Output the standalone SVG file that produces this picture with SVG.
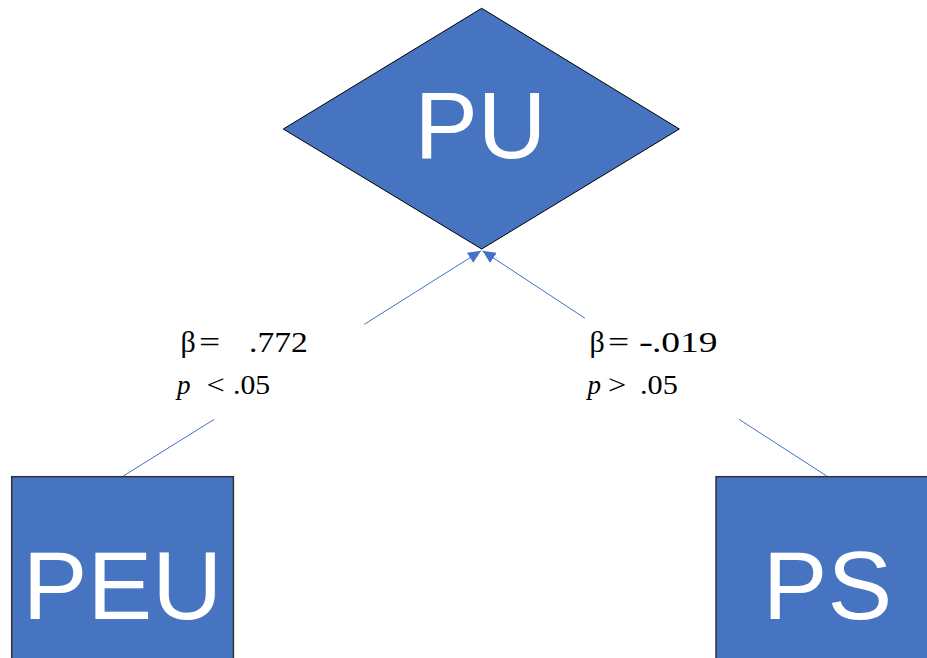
<svg xmlns="http://www.w3.org/2000/svg" width="927" height="658" viewBox="0 0 927 658">
  <style>
    .node { fill: #4674C1; }
    .lbl { font-family: "Liberation Sans", Arial, sans-serif; fill: #ffffff; text-anchor: middle; }
    .conn { stroke: #4472C4; stroke-width: 1; fill: none; }
    .stat { font-family: "Liberation Serif", "Times New Roman", serif; fill: #000000; }
    .s1 { font-size: 30px; }
    .s2 { font-size: 27px; }
    .it { font-style: italic; }
  </style>
  <defs>
    <marker id="arrow" markerUnits="userSpaceOnUse" viewBox="0 0 13 12" refX="13" refY="6" markerWidth="13" markerHeight="12" orient="auto">
      <path d="M0,0 L13,6 L0,12 z" fill="#4472C4"/>
    </marker>
  </defs>
  <rect width="927" height="658" fill="#ffffff"/>

  <g id="connectors">
    <line class="conn" x1="123.3" y1="476" x2="214.3" y2="419.3"/>
    <line class="conn" x1="364.3" y1="324.3" x2="481" y2="250.8" marker-end="url(#arrow)"/>
    <line class="conn" x1="826.7" y1="476" x2="739" y2="419.3"/>
    <line class="conn" x1="585" y1="318.3" x2="482.5" y2="250.8" marker-end="url(#arrow)"/>
  </g>

  <g id="node-PU">
    <polygon class="node" points="481.7,8.3 679.3,129 481.7,249 283.3,129" stroke="#000000" stroke-width="1"/>
    <text class="lbl" x="480.5" y="158" font-size="95">PU</text>
  </g>

  <g id="node-PEU">
    <rect class="node" x="11.7" y="476.7" width="221.7" height="190" stroke="#333333" stroke-width="1.5"/>
    <text class="lbl" x="122.5" y="619.3" font-size="97">PEU</text>
  </g>

  <g id="node-PS">
    <rect class="node" x="716" y="476.7" width="230" height="190" stroke="#333333" stroke-width="1.5"/>
    <text class="lbl" x="827.5" y="619.3" font-size="97">PS</text>
  </g>

  <g id="label-left">
    <text class="stat s1" x="180.5" y="352">β</text>
    <text class="stat s1" transform="translate(199,352) scale(1.25,1)">=</text>
    <text class="stat s1" transform="translate(249,352) scale(1.12,1)">.772</text>
    <text class="stat s2 it" x="177" y="393.5">p</text>
    <text class="stat s2" transform="translate(206.5,393.5) scale(1.2,1)">&lt;</text>
    <text class="stat s2" transform="translate(233,393.5) scale(1.1,1)">.05</text>
  </g>

  <g id="label-right">
    <text class="stat s1" x="589.5" y="352">β</text>
    <text class="stat s1" transform="translate(608,352) scale(1.25,1)">=</text>
    <text class="stat s1" transform="translate(639,352) scale(1.4,1)">-</text>
    <text class="stat s1" transform="translate(652,352) scale(1.25,1)">.019</text>
    <text class="stat s2 it" x="587.5" y="393.5">p</text>
    <text class="stat s2" transform="translate(608,393.5) scale(1.2,1)">&gt;</text>
    <text class="stat s2" transform="translate(640,393.5) scale(1.12,1)">.05</text>
  </g>
</svg>
